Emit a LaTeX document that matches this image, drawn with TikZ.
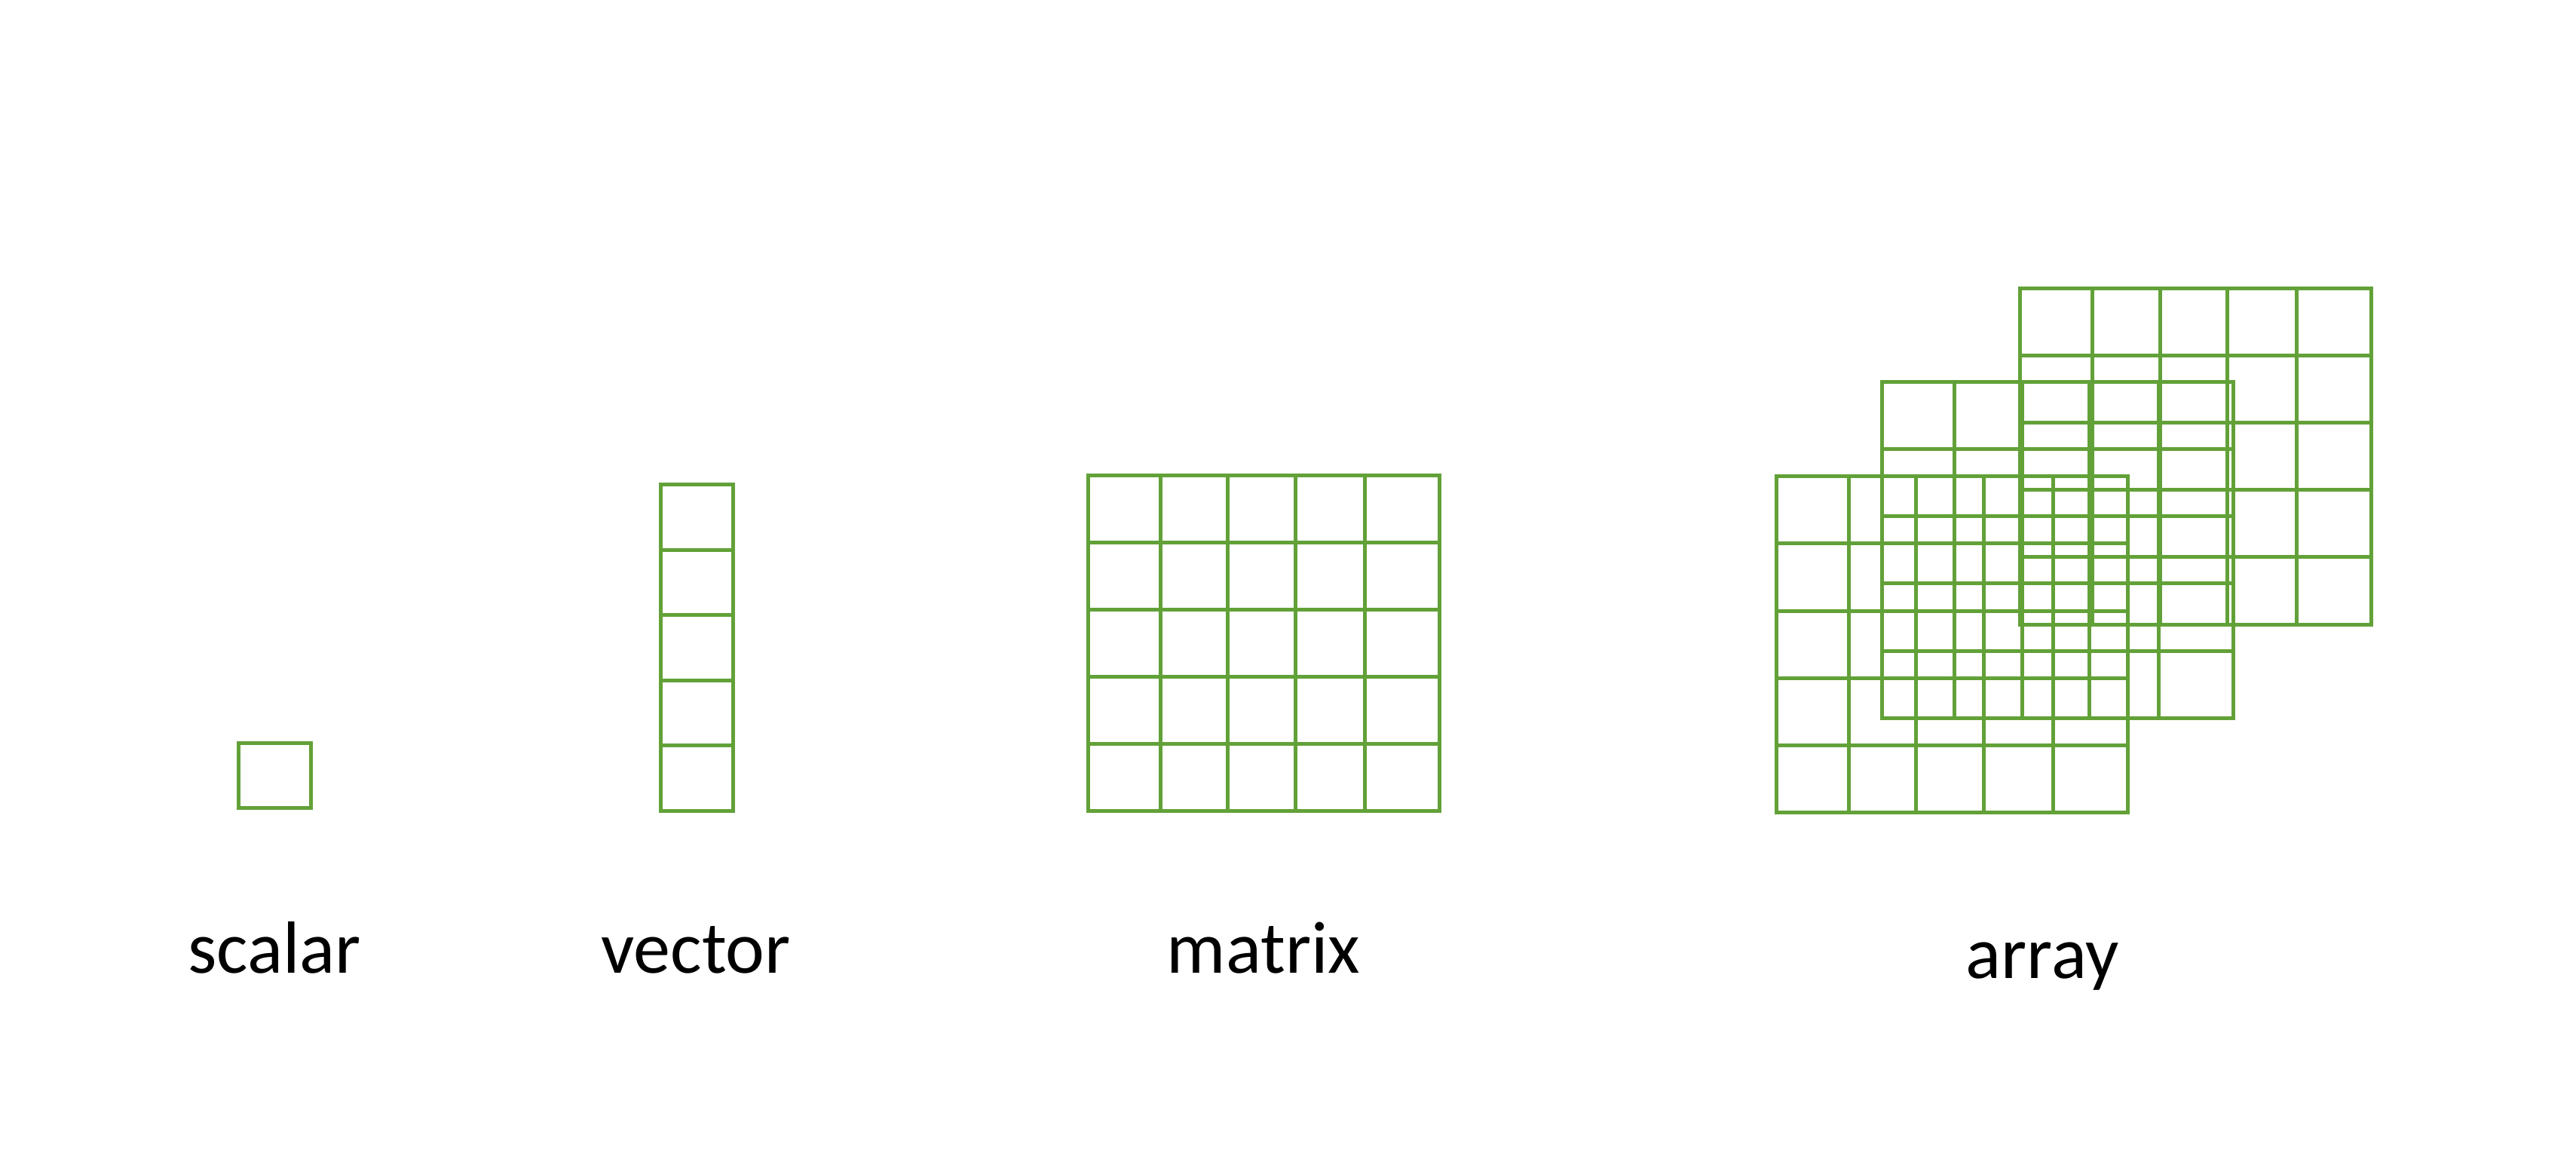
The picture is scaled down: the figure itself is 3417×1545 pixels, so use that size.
\documentclass[tikz,border=0pt]{standalone}
\usepackage{fontspec}
\setmainfont{Carlito}
\definecolor{gridgreen}{RGB}{98,161,56}
% x0 y0 x1 y1 nrows ; columns at fixed fractions (5 columns)
\newcommand{\cellgrid}[4]{%
  \draw[gridline] (#1,#2) rectangle (#3,#4);
  \foreach \f in {0.206,0.399,0.592,0.788}{
    \draw[gridline] ({#1+(#3-#1)*\f},#2) -- ({#1+(#3-#1)*\f},#4);}
  \foreach \j in {1,2,3,4}{
    \draw[gridline] (#1,{#2+(#4-#2)*\j/5}) -- (#3,{#2+(#4-#2)*\j/5});}
}
\begin{document}
\begin{tikzpicture}[x=0.1pt,y=-0.1pt,
  gridline/.style={draw=gridgreen,line width=0.5pt},
  lbl/.style={anchor=base,inner sep=0pt,font=\fontsize{9.8}{11}\selectfont}]
\useasboundingbox (0,0) rectangle (3417,1545);
% scalar
\draw[gridline] (316,985) rectangle (412,1071);
% vector
\draw[gridline] (876,643) rectangle (972,1075);
\foreach \j in {1,2,3,4}{
  \draw[gridline] (876,{643+432*\j/5}) -- (972,{643+432*\j/5});}
% matrix
\cellgrid{1443}{631}{1909}{1075}
% array (back, middle, front)
\cellgrid{2679}{383}{3145}{828}
\cellgrid{2496}{507}{2962}{952}
\cellgrid{2356}{632}{2822}{1077}
% labels
\node[lbl] (scalar) at (364,1290) {scalar};
\node[lbl] (vector) at (923,1290) {vector};
\node[lbl] (matrix) at (1676,1290) {matrix};
\node[lbl] (array) at (2709,1297) {array};
\end{tikzpicture}
\end{document}
